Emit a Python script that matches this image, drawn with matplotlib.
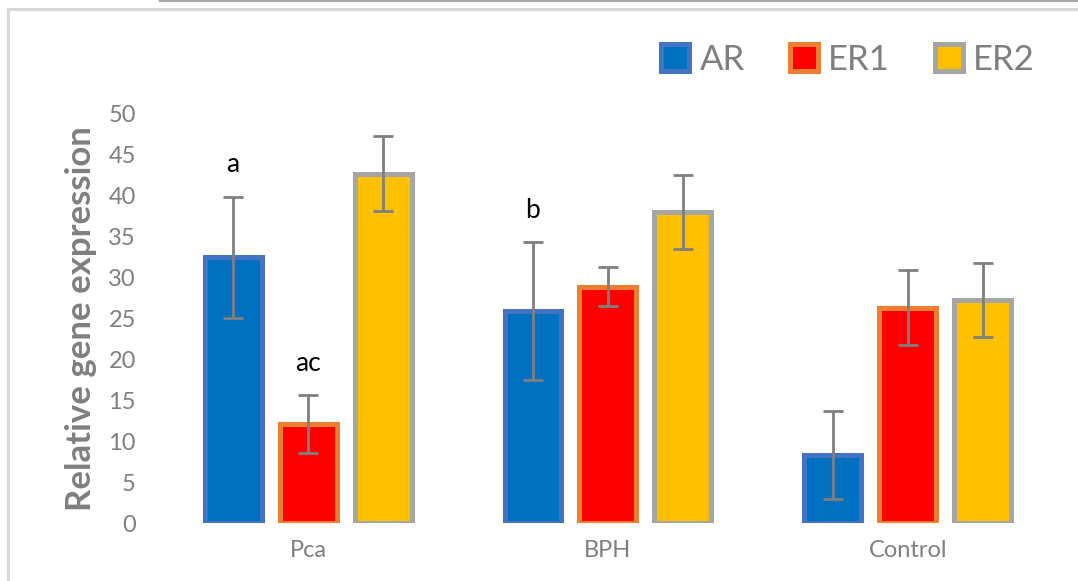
import matplotlib
matplotlib.use('Agg')
import matplotlib.pyplot as plt
from matplotlib.patches import Patch
from matplotlib.lines import Line2D
import numpy as np

plt.rcParams['font.family'] = ['Lato', 'DejaVu Sans']

groups = ['Pca', 'BPH', 'Control']
genes = ['AR', 'ER1', 'ER2']
means = {
    'AR':  [32.5, 25.9, 8.3],
    'ER1': [12.1, 28.9, 26.3],
    'ER2': [42.7, 38.0, 27.3],
}
errors = {
    'AR':  [7.4, 8.4, 5.4],
    'ER1': [3.5, 2.4, 4.6],
    'ER2': [4.6, 4.5, 4.5],
}
# letters above bars: (group index, gene, text)
letters = [(0, 'AR', 'a'), (0, 'ER1', 'ac'), (1, 'AR', 'b')]

fills = {'AR': '#0070C0', 'ER1': '#FF0000', 'ER2': '#FFC000'}
edges = {'AR': '#4472C4', 'ER1': '#ED7D31', 'ER2': '#A5A5A5'}
grey = '#7F7F7F'

fig = plt.figure(figsize=(10.78, 5.81), dpi=100)

# outer frame like the pasted excel chart
fig.add_artist(Line2D([0.148, 1.0], [0.998, 0.998], color='#A6A6A6', lw=1.6))
fig.add_artist(Line2D([0.007, 1.0], [0.985, 0.985], color='#D9D9D9', lw=2.2))
fig.add_artist(Line2D([0.007, 0.007], [0.0, 0.985], color='#D9D9D9', lw=2.2))

ax = fig.add_axes([0.1466, 0.0998, 0.8348, 0.704])

x = np.arange(len(groups))
step = 0.25
width = 0.19
for i, g in enumerate(genes):
    pos = x + (i - 1) * step
    ax.bar(pos, means[g], width, color=fills[g], edgecolor=edges[g], linewidth=3.6, zorder=2)
    ax.errorbar(pos, means[g], yerr=errors[g], fmt='none', ecolor=grey,
                elinewidth=2, capsize=7, capthick=2, zorder=3)

for gi, g, txt in letters:
    i = genes.index(g)
    top = means[g][gi] + errors[g][gi]
    ax.text(gi + (i - 1) * step, top + 2.4, txt, ha='center', va='bottom',
            fontsize=19, color='black')

ax.set_xlim(-0.5, 2.5)
ax.set_ylim(0, 50)
ax.set_yticks(np.arange(0, 51, 5))
ax.set_xticks(x)
ax.set_xticklabels(groups)
ax.tick_params(axis='both', length=0, colors=grey)
ax.tick_params(axis='y', pad=16, labelsize=17)
ax.tick_params(axis='x', pad=12, labelsize=17)
for s in ax.spines.values():
    s.set_visible(False)

ax.set_ylabel('Relative gene expression', fontsize=25, fontweight='bold', color=grey, labelpad=8)

handles = [Patch(facecolor=fills[g], edgecolor=edges[g], linewidth=3.6) for g in genes]
leg = fig.legend(handles, genes, loc='center right', bbox_to_anchor=(0.989, 0.897), ncol=3,
                 frameon=False, fontsize=25, labelcolor=grey, handlelength=0.8, handleheight=0.8,
                 handletextpad=0.3, columnspacing=1.3)

fig.savefig('out.png', dpi=100)
